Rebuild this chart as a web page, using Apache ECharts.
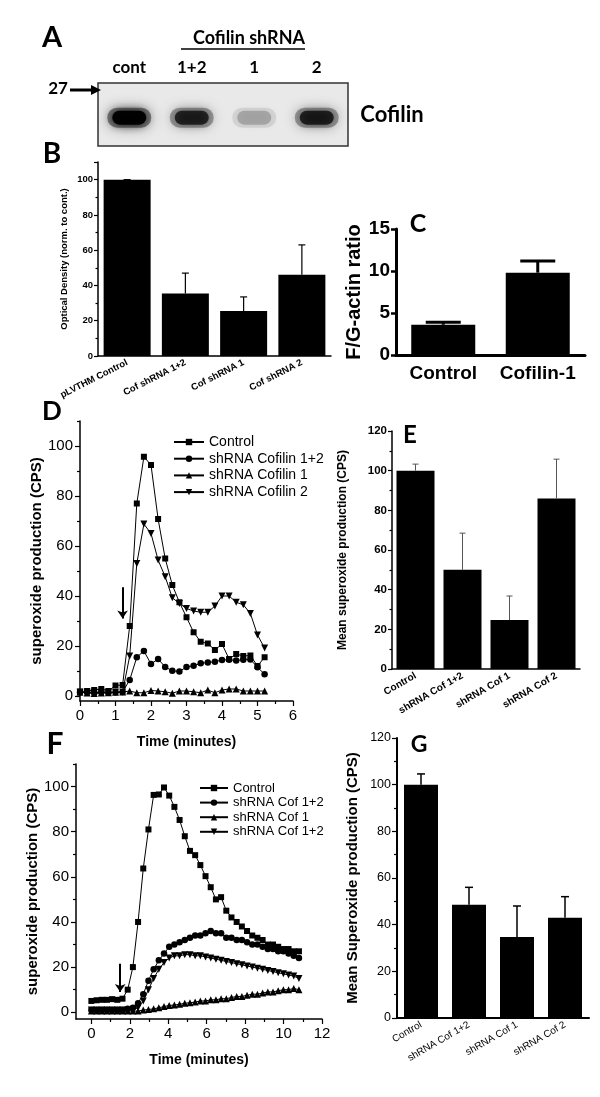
<!DOCTYPE html>
<html><head><meta charset="utf-8">
<script src="https://cdn.jsdelivr.net/npm/echarts@6/dist/echarts.min.js"></script>
<style>html,body{margin:0;padding:0;background:#fff}#c{width:600px;height:1097px}</style>
</head><body><div id="c"></div>
<script>
// ---------- Panel A: western blot ----------
const blotLanes = ['cont', '1+2', '1', '2'];
const blotIntensity = [0.97, 0.7, 0.2, 0.72];

// ---------- Panel B ----------
const bCats = ['pLVTHM Control', 'Cof shRNA 1+2', 'Cof shRNA 1', 'Cof shRNA 2'];
const bMean = [100, 35.5, 25.5, 46];
const bErrTop = [100, 47, 33.5, 63];

// ---------- Panel C ----------
const cCats = ['Control', 'Cofilin-1'];
const cMean = [3.6, 9.8];
const cErrTop = [3.9, 11.2];

// ---------- Panel D ----------
const dTime = [0, 0.2, 0.4, 0.6, 0.8, 1.0, 1.2, 1.4, 1.6, 1.8, 2.0, 2.2, 2.4, 2.6, 2.8, 3.0, 3.2, 3.4, 3.6, 3.8, 4.0, 4.2, 4.4, 4.6, 4.8, 5.0, 5.2];
const dControl = [1.8, 2.0, 2.4, 2.8, 2.0, 4.2, 4.4, 28, 77, 95.7, 92.4, 70.8, 55, 44.4, 37.5, 31.5, 25.5, 21.7, 21, 18.4, 20.8, 14.8, 16.8, 16, 16.2, 12, 15.5];
const dCof12 = [1.5, 1.5, 1.2, 1.5, 1.3, 1.5, 1.6, 6.4, 15.5, 18, 12.8, 14.8, 11.6, 10.1, 9.8, 11.6, 12.1, 13.1, 13.4, 13.7, 14.4, 14.5, 14.2, 14.5, 14.6, 11.5, 8.7];
const dCof1 = [1.5, 1.2, 1.0, 1.2, 1.3, 1.5, 1.6, 2.0, 1.3, 1.3, 2.2, 2.0, 1.7, 1.1, 2.0, 2.0, 1.7, 1.3, 2.4, 1.3, 2.4, 2.8, 2.8, 2.0, 2.0, 2.0, 2.0];
const dCof2 = [1.5, 1.5, 1.5, 1.5, 1.5, 1.5, 1.6, 16, 53, 68.8, 65, 54.4, 47.7, 39.3, 37, 35, 34, 33.5, 33.5, 36, 40, 40, 37.5, 36.5, 33, 24.4, 19.2];
const dNames = ['Control', 'shRNA Cofilin 1+2', 'shRNA Cofilin 1', 'shRNA Cofilin 2'];
const dArrow = [[1.2, 43.5], [1.2, 31]];
const dYTicks = [0, 20, 40, 60, 80, 100];
const dYMinor = [10, 30, 50, 70, 90, 110];

// ---------- Panel E ----------
const eCats = ['Control', 'shRNA Cof 1+2', 'shRNA Cof 1', 'shRNA Cof 2'];
const eMean = [100, 50, 24.7, 86];
const eErrTop = [103.3, 68.5, 36.8, 105.8];

// ---------- Panel F ----------
const fTime = [0, 0.27, 0.54, 0.81, 1.08, 1.35, 1.62, 1.89, 2.16, 2.43, 2.7, 2.97, 3.24, 3.51, 3.78, 4.05, 4.32, 4.59, 4.86, 5.13, 5.4, 5.67, 5.94, 6.21, 6.48, 6.75, 7.02, 7.29, 7.56, 7.83, 8.1, 8.37, 8.64, 8.91, 9.18, 9.45, 9.72, 9.99, 10.26, 10.53, 10.8];
const fControl = [5, 5.3, 5.5, 5.5, 5.8, 5.5, 6, 10, 20, 40, 63.7, 81, 96.3, 96.5, 99.6, 96, 91, 85.2, 78, 71.5, 69.6, 65.2, 60.3, 55.4, 50, 51, 45, 42, 40, 38, 36, 34, 33, 32, 30, 30, 29, 28, 28, 27, 27];
const fCof12 = [1, 1, 1, 1, 1, 1, 1, 1.5, 2, 4, 8, 14, 19, 23, 26, 29, 30, 31, 32, 33, 34, 34, 35, 36, 35, 35, 33, 33, 32, 32, 31, 30, 30, 29, 28, 28, 27, 27, 26, 25, 24];
const fCof1 = [0.5, 0.5, 0.5, 0.5, 0.5, 0.5, 0.5, 0.5, 0.5, 0.5, 1, 1.2, 1.5, 2, 2.5, 3, 3.2, 3.5, 4, 4.2, 4.5, 5, 5, 5.5, 5.5, 6, 6, 6.5, 7, 7, 7.5, 8, 8, 8.5, 9, 9, 9.5, 10, 10, 10.5, 10];
const fCof2 = [1, 1, 1, 1, 1, 1, 1, 1, 1, 2, 5, 10, 15, 19, 22, 24, 25, 25, 25.5, 25.5, 25, 25, 24.5, 24, 23.5, 23, 22.5, 22, 21.5, 21, 20.5, 20, 19.5, 19, 18.5, 18, 17.5, 17, 16.5, 16, 15];
const fNames = ['Control ', 'shRNA Cof 1+2', 'shRNA Cof 1', 'shRNA Cof 1+2 '];
const fArrow = [[1.5, 21.5], [1.5, 9]];
const fXTicks = [0, 2, 4, 6, 8, 10, 12];
const fXMinor = [1, 3, 5, 7, 9, 11];
const fYTicks = [0, 20, 40, 60, 80, 100];
const fYMinor = [10, 30, 50, 70, 90, 110];

// ---------- Panel G ----------
const gCats = ['Control', 'shRNA Cof 1+2', 'shRNA Cof 1', 'shRNA Cof 2'];
const gMean = [100, 48.5, 34.7, 43];
const gErrTop = [104.6, 56, 48, 52];

// =========================================================
const ARIAL = '"Liberation Sans", Arial, sans-serif';
const CAL = 'Lato, "Open Sans", sans-serif';

function errSeries(xi, means, tops, cap, color, width) {
  return {
    type: 'custom', xAxisIndex: xi, yAxisIndex: xi, silent: true, z: 3,
    encode: { x: 0, y: [1, 2] },
    data: means.map((m, i) => [i, m, tops[i]]),
    renderItem(params, api) {
      const p0 = api.coord([api.value(0), api.value(1)]);
      const p1 = api.coord([api.value(0), api.value(2)]);
      const st = { stroke: color, lineWidth: width };
      return { type: 'group', children: [
        { type: 'line', shape: { x1: p0[0], y1: p0[1], x2: p1[0], y2: p1[1] }, style: st },
        { type: 'line', shape: { x1: p1[0] - cap / 2, y1: p1[1], x2: p1[0] + cap / 2, y2: p1[1] }, style: st }
      ]};
    }
  };
}
function pairs(xs, ys) { return xs.map((x, i) => [x, ys[i]]); }
function lineSeries(xi, yi, name, xs, ys, symbol, size, rot) {
  return {
    type: 'line', name, xAxisIndex: xi, yAxisIndex: yi, data: pairs(xs, ys),
    symbol, symbolSize: size, symbolRotate: rot || 0, showAllSymbol: true,
    lineStyle: { color: '#000', width: 1 }, itemStyle: { color: '#000' },
    emphasis: { disabled: true }
  };
}
function arrowLine(pts) {
  return {
    silent: true, symbol: ['none', 'arrow'], symbolSize: 8, label: { show: false },
    lineStyle: { color: '#000', width: 2, type: 'solid' }, emphasis: { disabled: true },
    data: [[{ coord: pts[0] }, { coord: pts[1] }]]
  };
}

const tickStyle = { color: '#000', width: 1.2 };
const grid = [
  { left: 98, top: 83, width: 250, height: 63, show: true, backgroundColor: '#e9e9e9', borderColor: '#333', borderWidth: 1.5 }, // A
  { left: 98, top: 162, width: 233, height: 194 },   // B
  { left: 396, top: 229, width: 189, height: 126 },  // C
  { left: 80, top: 421, width: 213, height: 280 },   // D
  { left: 392, top: 431, width: 188, height: 238 },  // E
  { left: 76, top: 764, width: 246, height: 255 },   // F
  { left: 397, top: 738, width: 192, height: 280 }   // G
];

const xAxis = [
  { gridIndex: 0, type: 'category', data: blotLanes, position: 'top', axisLine: { show: false }, axisTick: { show: false },
    axisLabel: { margin: 7, fontSize: 17, fontWeight: 'bold', fontFamily: CAL, color: '#000', interval: 0 } },
  { gridIndex: 1, type: 'category', data: bCats, position: 'bottom', axisLine: { lineStyle: { color: '#000', width: 1.5 } },
    axisTick: { alignWithLabel: true, length: 4, lineStyle: tickStyle },
    axisLabel: { rotate: 27, margin: 6, fontSize: 9.5, fontWeight: 'bold', fontFamily: ARIAL, color: '#000', interval: 0 } },
  { gridIndex: 2, type: 'category', data: cCats, position: 'bottom', axisLine: { lineStyle: { color: '#000', width: 3 } }, axisTick: { show: false },
    axisLabel: { margin: 9, fontSize: 19, fontWeight: 'bold', fontFamily: ARIAL, color: '#000', interval: 0, hideOverlap: false } },
  { gridIndex: 3, type: 'value', position: 'bottom', min: 0, max: 6, interval: 1, splitLine: { show: false },
    axisLine: { onZero: false, lineStyle: { color: '#000', width: 1.5 } },
    axisTick: { length: 5, lineStyle: tickStyle }, minorTick: { show: true, splitNumber: 2, length: 3, lineStyle: tickStyle },
    axisLabel: { margin: 7, fontSize: 15, fontFamily: ARIAL, color: '#000' },
    name: 'Time (minutes)', nameLocation: 'middle', nameGap: 34,
    nameTextStyle: { fontSize: 14, fontWeight: 'bold', fontFamily: ARIAL, color: '#000' } },
  { gridIndex: 4, type: 'category', data: eCats, position: 'bottom', axisLine: { lineStyle: { color: '#000', width: 1.5 } }, axisTick: { show: false },
    axisLabel: { rotate: 30, margin: 6, fontSize: 10, fontWeight: 'bold', fontFamily: ARIAL, color: '#000', interval: 0 } },
  { gridIndex: 5, type: 'value', position: 'bottom', min: -0.8, max: 12, splitLine: { show: false },
    axisLine: { onZero: false, lineStyle: { color: '#000', width: 1.5 } },
    axisTick: { length: 5, lineStyle: tickStyle, customValues: fXTicks },
    axisLabel: { margin: 7, fontSize: 15, fontFamily: ARIAL, color: '#000', customValues: fXTicks },
    name: 'Time (minutes)', nameLocation: 'middle', nameGap: 34,
    nameTextStyle: { fontSize: 14, fontWeight: 'bold', fontFamily: ARIAL, color: '#000' } },
  { gridIndex: 6, type: 'category', data: gCats, position: 'bottom', axisLine: { lineStyle: { color: '#000', width: 2 } }, axisTick: { show: false },
    axisLabel: { rotate: 30, margin: 6, fontSize: 10, fontFamily: ARIAL, color: '#000', interval: 0 } },
  // minor x ticks for F
  { gridIndex: 5, type: 'value', position: 'bottom', min: -0.8, max: 12, splitLine: { show: false }, axisLine: { show: false, onZero: false },
    axisTick: { length: 3, lineStyle: tickStyle, customValues: fXMinor }, axisLabel: { show: false } }
];

const yAxis = [
  { gridIndex: 0, type: 'value', min: 0, max: 1, show: false },
  { gridIndex: 1, type: 'value', position: 'left', min: 0, max: 110, interval: 20, splitLine: { show: false },
    axisLine: { show: true, lineStyle: { color: '#000', width: 1.5 } },
    axisTick: { show: true, length: 4, lineStyle: tickStyle }, minorTick: { show: true, splitNumber: 2, length: 2.5, lineStyle: tickStyle },
    axisLabel: { showMaxLabel: false, margin: 5, fontSize: 9.5, fontWeight: 'bold', fontFamily: ARIAL, color: '#000' },
    name: 'Optical Density (norm. to cont.)', nameLocation: 'middle', nameGap: 29,
    nameTextStyle: { fontSize: 9.5, fontWeight: 'bold', fontFamily: ARIAL, color: '#000' } },
  { gridIndex: 2, type: 'value', position: 'left', min: 0, max: 15, interval: 5, splitLine: { show: false },
    axisLine: { show: true, lineStyle: { color: '#000', width: 3 } },
    axisTick: { show: true, length: 5, lineStyle: { color: '#000', width: 2.5 } },
    axisLabel: { margin: 6, fontSize: 19, fontWeight: 'bold', fontFamily: ARIAL, color: '#000' },
    name: 'F/G-actin ratio', nameLocation: 'middle', nameGap: 31,
    nameTextStyle: { fontSize: 20, fontWeight: 'bold', fontFamily: ARIAL, color: '#000' } },
  { gridIndex: 3, type: 'value', position: 'left', min: -2, max: 110, splitLine: { show: false },
    axisLine: { show: true, onZero: false, lineStyle: { color: '#000', width: 1.5 } },
    axisTick: { show: true, length: 5, lineStyle: tickStyle, customValues: dYTicks },
    axisLabel: { margin: 7, fontSize: 15, fontFamily: ARIAL, color: '#000', customValues: dYTicks },
    name: 'superoxide production (CPS)', nameLocation: 'middle', nameGap: 35,
    nameTextStyle: { fontSize: 15, fontWeight: 'bold', fontFamily: ARIAL, color: '#000' } },
  { gridIndex: 4, type: 'value', position: 'left', min: 0, max: 120, interval: 20, splitLine: { show: false },
    axisLine: { show: true, lineStyle: { color: '#000', width: 1.5 } },
    axisTick: { show: true, length: 4, lineStyle: tickStyle }, minorTick: { show: true, splitNumber: 2, length: 2.5, lineStyle: tickStyle },
    axisLabel: { margin: 5, fontSize: 11.5, fontWeight: 'bold', fontFamily: ARIAL, color: '#000' },
    name: 'Mean superoxide production (CPS)', nameLocation: 'middle', nameGap: 43,
    nameTextStyle: { fontSize: 12, fontWeight: 'bold', fontFamily: ARIAL, color: '#000' } },
  { gridIndex: 5, type: 'value', position: 'left', min: -3, max: 110, splitLine: { show: false },
    axisLine: { show: true, onZero: false, lineStyle: { color: '#000', width: 1.5 } },
    axisTick: { show: true, length: 5, lineStyle: tickStyle, customValues: fYTicks },
    axisLabel: { margin: 7, fontSize: 15, fontFamily: ARIAL, color: '#000', customValues: fYTicks },
    name: 'superoxide production (CPS)', nameLocation: 'middle', nameGap: 31,
    nameTextStyle: { fontSize: 15, fontWeight: 'bold', fontFamily: ARIAL, color: '#000' } },
  { gridIndex: 6, type: 'value', position: 'left', min: 0, max: 120, interval: 20, splitLine: { show: false },
    axisLine: { show: true, lineStyle: { color: '#000', width: 2 } },
    axisTick: { show: true, length: 5, lineStyle: tickStyle }, minorTick: { show: true, splitNumber: 2, length: 3, lineStyle: tickStyle },
    axisLabel: { margin: 6, fontSize: 12.5, fontFamily: ARIAL, color: '#000' },
    name: 'Mean Superoxide production (CPS)', nameLocation: 'middle', nameGap: 37,
    nameTextStyle: { fontSize: 15, fontWeight: 'bold', fontFamily: ARIAL, color: '#000' } },
  // minor y ticks D (7), F (8)
  { gridIndex: 3, type: 'value', position: 'left', min: -2, max: 110, splitLine: { show: false }, axisLine: { show: false, onZero: false },
    axisTick: { show: true, length: 3, lineStyle: tickStyle, customValues: dYMinor }, axisLabel: { show: false } },
  { gridIndex: 5, type: 'value', position: 'left', min: -3, max: 110, splitLine: { show: false }, axisLine: { show: false, onZero: false },
    axisTick: { show: true, length: 3, lineStyle: tickStyle, customValues: fYMinor }, axisLabel: { show: false } }
];

const barBase = { type: 'bar', itemStyle: { color: '#000' }, silent: true, emphasis: { disabled: true } };
const series = [
  // A: blot bands
  { type: 'custom', xAxisIndex: 0, yAxisIndex: 0, silent: true,
    data: blotIntensity.map((v, i) => [i, v]),
    renderItem(params, api) {
      const c = api.coord([api.value(0), 0.45]);
      const v = api.value(1);
      return { type: 'group', children: [
        { type: 'rect', shape: { x: c[0] - 22, y: c[1] - 10, width: 44, height: 20, r: 10 },
          style: { fill: 'rgba(30,30,30,' + (v * 0.5) + ')', shadowBlur: 14, shadowColor: 'rgba(30,30,30,' + (v * 0.7) + ')' } },
        { type: 'rect', shape: { x: c[0] - 17, y: c[1] - 7, width: 34, height: 14, r: 7 },
          style: { fill: 'rgba(0,0,0,' + v + ')', shadowBlur: 10, shadowColor: 'rgba(0,0,0,' + v + ')' } }
      ]};
    } },
  // B
  Object.assign({}, barBase, { xAxisIndex: 1, yAxisIndex: 1, barWidth: 47, data: bMean }),
  errSeries(1, bMean, bErrTop, 7, '#000', 1.2),
  // C
  Object.assign({}, barBase, { xAxisIndex: 2, yAxisIndex: 2, barWidth: 64, data: cMean }),
  errSeries(2, cMean, cErrTop, 35, '#000', 3),
  // D
  Object.assign(lineSeries(3, 3, dNames[0], dTime, dControl, 'rect', 6), { markLine: arrowLine(dArrow) }),
  lineSeries(3, 3, dNames[1], dTime, dCof12, 'circle', 6.5),
  lineSeries(3, 3, dNames[2], dTime, dCof1, 'triangle', 7),
  lineSeries(3, 3, dNames[3], dTime, dCof2, 'triangle', 7, 180),
  // E
  Object.assign({}, barBase, { xAxisIndex: 4, yAxisIndex: 4, barWidth: 38, data: eMean }),
  errSeries(4, eMean, eErrTop, 6, '#555', 1),
  // F
  Object.assign(lineSeries(5, 5, fNames[0], fTime, fControl, 'rect', 6), { markLine: arrowLine(fArrow) }),
  lineSeries(5, 5, fNames[1], fTime, fCof12, 'circle', 6.5),
  lineSeries(5, 5, fNames[2], fTime, fCof1, 'triangle', 7),
  lineSeries(5, 5, fNames[3], fTime, fCof2, 'triangle', 7, 180),
  // G
  Object.assign({}, barBase, { xAxisIndex: 6, yAxisIndex: 6, barWidth: 34, data: gMean }),
  errSeries(6, gMean, gErrTop, 8, '#000', 1.5)
];

const legendBase = { orient: 'vertical', selectedMode: false, padding: 0, itemWidth: 30, itemHeight: 8,
  inactiveColor: '#000', textStyle: { fontFamily: ARIAL, color: '#000' } };
const legend = [
  Object.assign({}, legendBase, { data: dNames, left: 173, top: 435, itemGap: 2.7, textStyle: { fontFamily: ARIAL, color: '#000', fontSize: 14, lineHeight: 14 } }),
  Object.assign({}, legendBase, { data: fNames, left: 199, top: 781, itemWidth: 28, itemGap: 0.6, textStyle: { fontFamily: ARIAL, color: '#000', fontSize: 13, lineHeight: 14 } })
];

function letter(t, x, y, size) {
  return { type: 'text', x, y, style: { text: t, font: 'bold ' + size + 'px ' + CAL, fill: '#000', align: 'center', verticalAlign: 'middle' } };
}
const graphic = [
  letter('A', 52, 38, 29), letter('B', 52, 154, 28), letter('C', 418, 224, 25), letter('D', 52, 412, 26),
  letter('E', 410, 435, 24), letter('F', 55, 744, 30), letter('G', 419, 745, 23),
  { type: 'text', x: 249, y: 38, style: { text: 'Cofilin shRNA', font: 'bold 18px ' + CAL, fill: '#000', align: 'center', verticalAlign: 'middle' } },
  { type: 'line', shape: { x1: 181, y1: 49, x2: 305, y2: 49 }, style: { stroke: '#000', lineWidth: 1.5 } },
  { type: 'text', x: 58, y: 89, style: { text: '27', font: 'bold 17px ' + CAL, fill: '#000', align: 'center', verticalAlign: 'middle' } },
  { type: 'line', shape: { x1: 70, y1: 90, x2: 93, y2: 90 }, style: { stroke: '#000', lineWidth: 3 } },
  { type: 'polygon', shape: { points: [[91, 85], [101, 90], [91, 95]] }, style: { fill: '#000' } },
  { type: 'text', x: 392, y: 115, style: { text: 'Cofilin', font: 'bold 22px ' + CAL, fill: '#000', align: 'center', verticalAlign: 'middle' } }
];

const chart = echarts.init(document.getElementById('c'), null, { renderer: 'canvas' });
chart.setOption({ animation: false, backgroundColor: '#fff', grid, xAxis, yAxis, series, legend, graphic });
</script>
</body></html>
